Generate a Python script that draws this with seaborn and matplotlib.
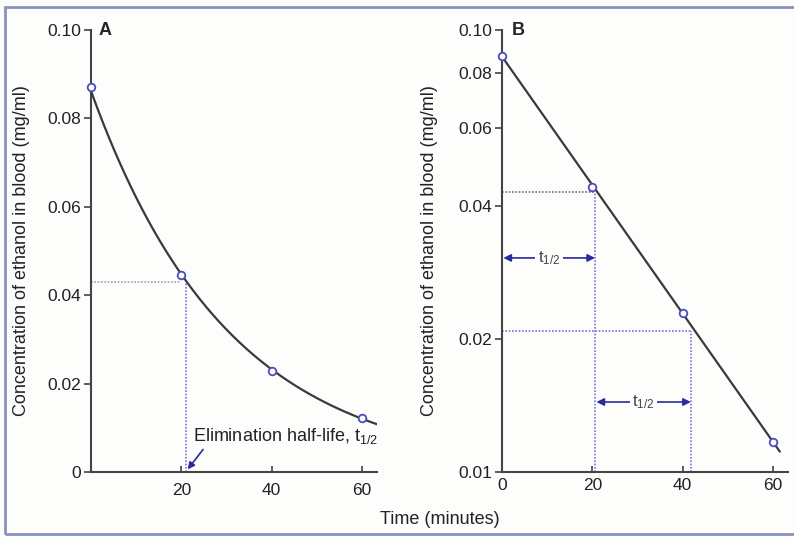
"""Ethanol elimination: linear (A) and semi-log (B) concentration plots."""

import numpy as np
import matplotlib.pyplot as plt
import seaborn as sns
from matplotlib.patches import Rectangle

# Data
time_min = [0, 20, 40, 60]
conc_a = [0.087, 0.0445, 0.0228, 0.0122]
conc_b = [0.0875, 0.0442, 0.0229, 0.0117]

a_yticks = [0, 0.02, 0.04, 0.06, 0.08, 0.10]
a_yticklabels = ['0', '0.02', '0.04', '0.06', '0.08', '0.10']
a_xticks = [20, 40, 60]
b_yticks = [0.01, 0.02, 0.04, 0.06, 0.08, 0.10]
b_yticklabels = ['0.01', '0.02', '0.04', '0.06', '0.08', '0.10']
b_xticks = [0, 20, 40, 60]

# half-life guides
a_half_t = 21.1
a_half_c = 0.043
b_half_t = [20.6, 41.8]
b_half_c = [0.043, 0.0208]
b_arrow_y = [0.0305, 0.0144]

CURVE = '#3a3a3a'
MARKER = '#4b4bc0'
GUIDE = '#7474e0'
GUIDE_GRAY = '#9aa2ae'
ARROW = '#2a2a9a'
YLABEL = 'Concentration of ethanol in blood (mg/ml)'

sns.set_theme(style='ticks')
plt.rcParams['font.family'] = ['Liberation Sans', 'DejaVu Sans']
plt.rcParams['mathtext.default'] = 'regular'
plt.rcParams['axes.edgecolor'] = '#444444'
plt.rcParams['axes.linewidth'] = 1.5

W, H = 794, 538
fig = plt.figure(figsize=(W / 100, H / 100), dpi=100)
fig.patch.set_facecolor('#fdfdfc')

# outer frame of the original scan
fig.patches.append(Rectangle((5 / W, 4 / H), 1.2, 527 / H, transform=fig.transFigure,
                             fill=False, edgecolor='#8a92bc', lw=2))

axA = fig.add_axes([91 / W, 66 / H, 286 / W, 442 / H])
axB = fig.add_axes([502 / W, 66 / H, 286 / W, 442 / H])


def fitted_curve(t, c, t_end):
    """Exponential fit through the measured points."""
    slope, icpt = np.polyfit(t, np.log(c), 1)
    tt = np.linspace(0, t_end, 200)
    return tt, np.exp(icpt + slope * tt)


for ax, conc, t_end in [(axA, conc_a, 63.5), (axB, conc_b, 61.5)]:
    ax.set_facecolor('none')
    tt, cc = fitted_curve(time_min, conc, t_end)
    sns.lineplot(x=tt, y=cc, color=CURVE, lw=1.6, ax=ax, zorder=3)
    sns.scatterplot(x=time_min, y=conc, marker='o', s=30, facecolor='white',
                    edgecolor=MARKER, linewidth=1.3, ax=ax, zorder=4, clip_on=False)
    ax.set_xlim(0, 63.3)
    ax.set_xlabel('')
    ax.set_ylabel(YLABEL, fontsize=13, color='#222222')
    ax.tick_params(axis='y', direction='out', length=5, width=1.2, labelsize=12.5,
                   pad=2, colors='#444444', labelcolor='#222222')
    ax.tick_params(axis='x', direction='in', length=4, width=1.2, labelsize=12.5,
                   colors='#444444', labelcolor='#222222')
    sns.despine(ax=ax)

# Panel A: linear scale
axA.set_ylim(0, 0.10)
axA.set_yticks(a_yticks)
axA.set_yticklabels(a_yticklabels)
axA.set_xticks(a_xticks)
axA.tick_params(axis='x', pad=8)
axA.yaxis.set_label_coords(-(91 - 30) / 286, 0.5)
axA.plot([0, 20], [a_half_c, a_half_c], ls=(0, (1, 1)), color=GUIDE_GRAY, lw=1.2)
axA.plot([a_half_t, a_half_t], [0, a_half_c], ls=(0, (1, 1)), color=GUIDE, lw=1.2)
axA.annotate('Elimination half-life, t$_{1/2}$', xy=(a_half_t + 0.3, 0.0006),
             xytext=(22.5, 0.0081), fontsize=13, color='#222222', va='center',
             arrowprops=dict(arrowstyle='-|>', color=ARROW, lw=1.2,
                             shrinkA=0, shrinkB=0, mutation_scale=10,
                             relpos=(0.07, 0.0)))
axA.text(0.025, 1.0, 'A', transform=axA.transAxes, fontsize=13, fontweight='bold',
         va='center', ha='left')

# Panel B: semi-log scale
axB.set_yscale('log')
axB.set_ylim(0.01, 0.10)
axB.set_yticks(b_yticks)
axB.set_yticklabels(b_yticklabels)
axB.minorticks_off()
axB.set_xticks(b_xticks)
axB.tick_params(axis='x', pad=4)
axB.yaxis.set_label_coords(-(502 - 438) / 286, 0.5)
axB.plot([0, b_half_t[0]], [b_half_c[0]] * 2, ls=(0, (1, 1)), color='#6e6e80', lw=1.2)
axB.plot([0, b_half_t[1]], [b_half_c[1]] * 2, ls=(0, (1, 1)), color=GUIDE, lw=1.2)
for t_h, c_h in zip(b_half_t, b_half_c):
    axB.plot([t_h, t_h], [0.01, c_h], ls=(0, (1, 1)), color=GUIDE, lw=1.2)

arrow_spans = [(0.3, b_half_t[0]), (b_half_t[0] + 0.3, b_half_t[1])]
for (x0, x1), y in zip(arrow_spans, b_arrow_y):
    xm = (x0 + x1) / 2
    for xe in (x0, x1):
        axB.annotate('', xy=(xe, y), xytext=(xm, y),
                     arrowprops=dict(arrowstyle='-|>', color=ARROW, lw=1.2,
                                     shrinkA=0, shrinkB=0, mutation_scale=11))
    axB.text(xm, y, 't$_{1/2}$', fontsize=12, color='#444444', ha='center', va='center',
             bbox=dict(boxstyle='square,pad=0.15', facecolor='#fdfdfc', edgecolor='none'))
axB.text(0.035, 1.0, 'B', transform=axB.transAxes, fontsize=13, fontweight='bold',
         va='center', ha='left')

fig.text(440 / W, 18 / H, 'Time (minutes)', fontsize=13, ha='center', va='center',
         color='#222222')

fig.savefig('out.png', dpi=100, facecolor=fig.get_facecolor())
